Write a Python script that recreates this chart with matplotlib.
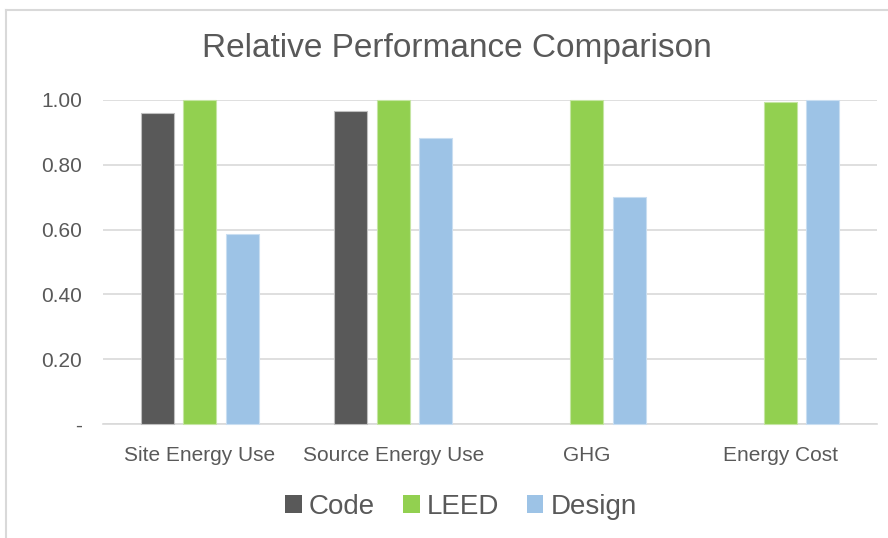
import matplotlib

matplotlib.use("Agg")

import numpy as np

import matplotlib.pyplot as plt

from matplotlib.lines import Line2D

from matplotlib.patches import Patch


categories = ["Site Energy Use", "Source Energy Use", "GHG", "Energy Cost"]

code_vals = [0.96, 0.966, np.nan, np.nan]  # no Code bar for GHG / Energy Cost

leed_vals = [1.00, 1.00, 1.00, 0.994]

design_vals = [0.586, 0.884, 0.70, 1.00]

series_names = ["Code", "LEED", "Design"]

colors = ["#595959", "#92D050", "#9DC3E6"]

edges = ["#BFBFBF", "#C5E5A3", "#C9DEF1"]

ytick_vals = [0, 0.2, 0.4, 0.6, 0.8, 1.0]

ytick_labels = ["-", "0.20", "0.40", "0.60", "0.80", "1.00"]


plt.rcParams['font.family'] = ['Liberation Sans', 'DejaVu Sans']

text_color = "#595959"

grid_color = "#D9D9D9"


fig = plt.figure(figsize=(8.88, 5.38), dpi=100)

ax = fig.add_axes([103 / 888, 1 - 424 / 538, 774 / 888, 324 / 538])


x = np.arange(len(categories))

offset = 0.22

width = 0.17

all_vals = [code_vals, leed_vals, design_vals]

for i, vals in enumerate(all_vals):

    ax.bar(x + (i - 1) * offset, vals, width, color=colors[i], edgecolor=edges[i],
           linewidth=0.8, zorder=3, clip_on=False)


ax.set_xlim(-0.5, len(categories) - 0.5)

ax.set_ylim(0, 1.0)

ax.set_yticks(ytick_vals)

ax.set_yticklabels(ytick_labels)

ax.set_xticks(x)

ax.set_xticklabels(categories)

ax.tick_params(axis='both', length=0, colors=text_color, labelsize=15)

ax.tick_params(axis='y', pad=15)

ax.tick_params(axis='x', pad=16)

for lbl in ax.get_yticklabels():

    lbl.set_horizontalalignment('right')

ax.grid(axis='y', color=grid_color, linewidth=1.2, zorder=0)

for s in ["top", "right", "left"]:

    ax.spines[s].set_visible(False)

ax.spines["bottom"].set_color(grid_color)

ax.spines["bottom"].set_linewidth(1.2)


fig.text(457 / 888, 1 - 48 / 538, "Relative Performance Comparison", ha='center', va='center',
         fontsize=24, color=text_color)


handles = [Patch(facecolor=colors[i], edgecolor='none') for i in range(3)]

fig.legend(handles, series_names, loc='center', bbox_to_anchor=(461 / 888, 1 - 507 / 538),
           ncol=3, frameon=False, fontsize=20, labelcolor=text_color,
           handlelength=0.6, handleheight=0.6, handletextpad=0.25, columnspacing=1.0)


# chart frame (left and top edges visible in reference)
fig.add_artist(Line2D([6 / 888, 6 / 888], [0, 1 - 10 / 538], color=grid_color, linewidth=1.5,
                      transform=fig.transFigure))

fig.add_artist(Line2D([6 / 888, 1], [1 - 10 / 538, 1 - 10 / 538], color=grid_color, linewidth=1.5,
                      transform=fig.transFigure))


plt.savefig("out.png", dpi=100, facecolor='white')

plt.close()
